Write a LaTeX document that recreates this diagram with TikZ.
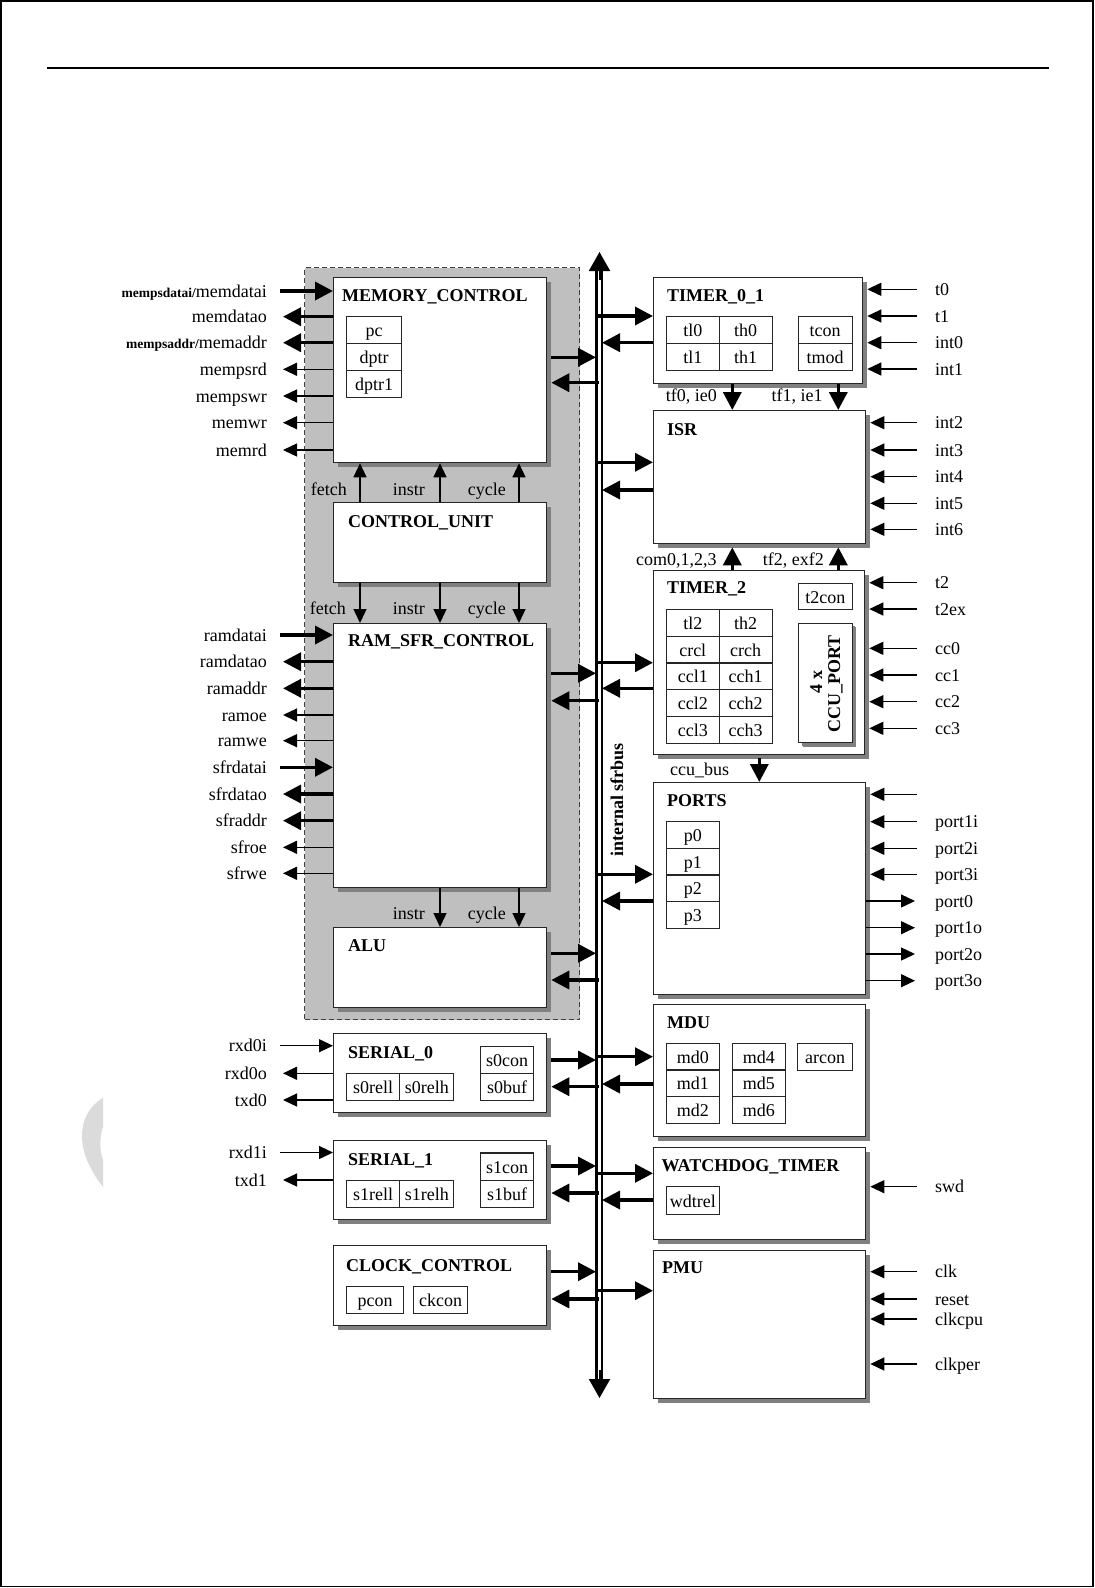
\documentclass[tikz,border=0pt]{standalone}
\usepackage{fontspec}
\setmainfont{Liberation Serif}
\usetikzlibrary{arrows.meta,shadows,calc}
\newcommand\labfont{\fontsize{18}{20}\selectfont}
\newcommand\ttlfont{\fontsize{18}{20}\selectfont\bfseries}
\newcommand\smbfont{\fontsize{13.5}{15}\selectfont\bfseries}
% left-side signals
\newcommand\sigInL[5]{\node[lbl,anchor=east] (#1) at (267,#3) {#2};
  \draw[#4] ([xshift=13pt]#1.east) -- (#1.east -| #5.west);}
\newcommand\sigOutL[5]{\node[lbl,anchor=east] (#1) at (267,#3) {#2};
  \draw[#4] (#1.east -| #5.west) -- ([xshift=16pt]#1.east);}
% right-side signals
\newcommand\sigInR[4]{\node[lbl,anchor=west] (#1) at (935,#3) {#2};
  \draw[thn] ([xshift=-18pt]#1.west) -- ($(#1.west -| #4.east)+(4,0)$);}
\newcommand\sigOutR[4]{\node[lbl,anchor=west] (#1) at (935,#3) {#2};
  \draw[thn] (#1.west -| #4.east) -- ([xshift=-20pt]#1.west);}
% bus connections
\newcommand\LtoBus[2]{\draw[thk] ($(#1.east |- 0,#2)+(4,0)$) -- (busL |- 0,#2);}
\newcommand\BusToL[2]{\draw[thk] (busM |- 0,#2) -- ($(#1.east |- 0,#2)+(4,0)$);}
\newcommand\BusToR[2]{\draw[thk] (busL |- 0,#2) -- (#1.west |- 0,#2);}
\newcommand\RtoBus[2]{\draw[thk] (#1.west |- 0,#2) -- (busR |- 0,#2);}

\begin{document}
\begin{tikzpicture}[x=1pt,y=-1pt,
  blk/.style={draw=black!85,line width=1.3pt,fill=white,anchor=north west,inner sep=0pt,
     drop shadow={shadow xshift=4pt,shadow yshift=-4pt,fill=black!50,opacity=1}},
  cell/.style={draw=black!85,line width=1.1pt,anchor=north west,inner sep=0pt,font=\labfont,
     minimum width=53pt,minimum height=26.7pt,text height=13pt,text depth=0pt},
  ttl/.style={font=\ttlfont,anchor=base west,inner sep=0pt},
  lbl/.style={font=\labfont,inner sep=0pt,text height=12pt,text depth=0pt},
  flab/.style={font=\labfont,inner sep=0pt,anchor=base east},
  thk/.style={line width=3.5pt,-{Triangle[length=18pt,width=18pt]}},
  thn/.style={line width=1.3pt,-{Triangle[length=14pt,width=13pt]}},
]
\useasboundingbox (0,0) rectangle (1095,1588);
\fill[white] (0,0) rectangle (1095,1588);
\draw[line width=1.5pt] (1,1) rectangle (1093,1586.5);
\draw[line width=1.2pt] (47,68) -- (1049,68);
% watermark fragment
\fill[black!14] (103,1098) .. controls (89,1106) and (82,1120) .. (82,1136)
  .. controls (82,1156) and (93,1174) .. (103,1187) -- (103,1160)
  .. controls (99.5,1150) and (99.5,1137) .. (103,1127) -- cycle;

% core region
\node[anchor=north west,minimum width=275pt,minimum height=752pt,inner sep=0pt,
  fill=black!25,draw=black!75,line width=1pt,dash pattern=on 5pt off 3pt] (core) at (304,267) {};

% ---------- left blocks ----------
\node[blk,minimum width=213pt,minimum height=185pt] (mem) at (333,277) {};
\node[ttl] (memT) at (342,301) {MEMORY\_CONTROL};
\node[cell,minimum width=55pt] (pc) at (346,316) {pc};
\node[cell,minimum width=55pt] (dptr) at (346,343) {dptr};
\node[cell,minimum width=55pt] (dptrA) at (346,370) {dptr1};

\node[blk,minimum width=213pt,minimum height=80pt] (cu) at (333,502) {};
\node[ttl] (cuT) at (348,527) {CONTROL\_UNIT};

\node[blk,minimum width=213pt,minimum height=264pt] (ram) at (333,623) {};
\node[ttl] (ramT) at (348,646.5) {RAM\_SFR\_CONTROL};

\node[blk,minimum width=213pt,minimum height=80pt] (alu) at (333,927) {};
\node[ttl] (aluT) at (348,951.5) {ALU};

\node[blk,minimum width=213pt,minimum height=79pt] (ser0) at (333,1033) {};
\node[ttl] (ser0T) at (348,1058) {SERIAL\_0};
\node[cell,minimum width=53pt,minimum height=27.6pt] (s0con) at (480,1045.7) {s0con};
\node[cell,minimum width=53pt] (s0buf) at (480,1073.3) {s0buf};
\node[cell,minimum width=53.3pt] (s0rell) at (346,1073.3) {s0rell};
\node[cell,minimum width=54pt] (s0relh) at (399.3,1073.3) {s0relh};

\node[blk,minimum width=213pt,minimum height=79pt] (ser1) at (333,1140) {};
\node[ttl] (ser1T) at (348,1165) {SERIAL\_1};
\node[cell,minimum width=53pt,minimum height=27.6pt] (s1con) at (480,1152.4) {s1con};
\node[cell,minimum width=53pt] (s1buf) at (480,1180) {s1buf};
\node[cell,minimum width=53.3pt] (s1rell) at (346,1180) {s1rell};
\node[cell,minimum width=54pt] (s1relh) at (399.3,1180) {s1relh};

\node[blk,minimum width=213pt,minimum height=80pt] (clk) at (333,1245) {};
\node[ttl] (clkT) at (346,1271) {CLOCK\_CONTROL};
\node[cell,minimum width=57pt,minimum height=27pt] (pcon) at (346,1286) {pcon};
\node[cell,minimum width=54pt,minimum height=27pt] (ckcon) at (413,1286) {ckcon};

% ---------- right blocks ----------
\node[blk,minimum width=209pt,minimum height=106pt] (tmr) at (653,277) {};
\node[ttl] (tmrT) at (667,301) {TIMER\_0\_1};
\node[cell] (tlA) at (665.7,316) {tl0};
\node[cell] (thA) at (718.5,316) {th0};
\node[cell] (tlB) at (665.7,343) {tl1};
\node[cell] (thB) at (718.5,343) {th1};
\node[cell,minimum width=54pt] (tcon) at (797.5,316) {tcon};
\node[cell,minimum width=54pt] (tmod) at (797.5,343) {tmod};

\node[blk,minimum width=212pt,minimum height=133pt] (isr) at (653,410) {};
\node[ttl] (isrT) at (667,435) {ISR};

\node[blk,minimum width=211pt,minimum height=184pt] (tm2) at (653,570) {};
\node[ttl] (tm2T) at (667,593.3) {TIMER\_2};
\node[cell,minimum width=54pt,minimum height=26.5pt] (ttcon) at (797.7,582.7) {t2con};
\foreach \nm/\a/\b [count=\k from 0] in {r0/tl2/th2,r1/crcl/crch,r2/ccl1/cch1,r3/ccl2/cch2,r4/ccl3/cch3}{
  \node[cell] (\nm l) at (665.7,609+26.7*\k) {\a};
  \node[cell] (\nm h) at (718.5,609+26.7*\k) {\b};
}
\node[blk,line width=1.1pt,minimum width=53.4pt,minimum height=119.6pt,
  drop shadow={shadow xshift=3pt,shadow yshift=-3pt,fill=black!50,opacity=1}] (ccu) at (798.3,622.7) {};
\node[font=\ttlfont,rotate=90,anchor=base,inner sep=0pt] (ccuA) at (822,682) {4 x};
\node[font=\ttlfont,rotate=90,anchor=base,inner sep=0pt] (ccuB) at (840,684) {CCU\_PORT};

\node[blk,minimum width=212pt,minimum height=212pt] (ports) at (653,782) {};
\node[ttl] (portsT) at (667,806) {PORTS};
\foreach \t [count=\k from 0] in {p0,p1,p2,p3}{
  \node[cell] (c\t) at (665.7,821+26.7*\k) {\t};
}

\node[blk,minimum width=212pt,minimum height=132pt] (mdu) at (653,1004) {};
\node[ttl] (mduT) at (667,1028.3) {MDU};
\foreach \a/\b [count=\k from 0] in {md0/md4,md1/md5,md2/md6}{
  \node[cell] (c\a) at (665.7,1042.7+26.7*\k) {\a};
  \node[cell] (c\b) at (731.7,1042.7+26.7*\k) {\b};
}
\node[cell,minimum width=54.4pt,minimum height=27.3pt] (arcon) at (797.3,1042.7) {arcon};

\node[blk,minimum width=212pt,minimum height=92pt] (wdt) at (653,1147) {};
\node[ttl] (wdtT) at (661.5,1171.7) {WATCHDOG\_TIMER};
\node[cell,minimum height=28pt] (wdtrel) at (665.7,1186) {wdtrel};

\node[blk,minimum width=212pt,minimum height=148pt] (pmu) at (653,1250) {};
\node[ttl] (pmuT) at (662,1273) {PMU};

% ---------- internal bus ----------
\coordinate (busL) at (596,0);
\coordinate (busM) at (599,0);
\coordinate (busR) at (602,0);
\coordinate (busTop) at (599.5,252);
\coordinate (busBot) at (599.5,1398);
\draw[line width=3pt] (596,268) -- (596,1381);
\draw[line width=2pt] (602,268) -- (602,1381);
\draw[line width=2pt,-{Triangle[length=19pt,width=21pt]}] (599.5,280) -- (busTop);
\draw[line width=2pt,-{Triangle[length=19pt,width=21pt]}] (599.5,1370) -- (busBot);
\node[font=\ttlfont,rotate=90,inner sep=0pt] (busT) at (617,800) {internal sfrbus};

\LtoBus{mem}{357.3}  \BusToL{mem}{382.7}
\LtoBus{ram}{673.3}  \BusToL{ram}{700.7}
\LtoBus{alu}{953.3}  \BusToL{alu}{980}
\LtoBus{ser0}{1060}  \BusToL{ser0}{1086.7}
\LtoBus{ser1}{1166}  \BusToL{ser1}{1193}
\LtoBus{clk}{1271.7} \BusToL{clk}{1299}
\BusToR{tmr}{316}    \RtoBus{tmr}{342.7}
\BusToR{isr}{462.3}  \RtoBus{isr}{490}
\BusToR{tm2}{662.7}  \RtoBus{tm2}{688.3}
\BusToR{ports}{874.3} \RtoBus{ports}{901}
\BusToR{mdu}{1056.7} \RtoBus{mdu}{1084}
\BusToR{wdt}{1173.3} \RtoBus{wdt}{1200}
\BusToR{pmu}{1290.7}

% ---------- internal control signals ----------
\foreach \xx in {360,440,519}{
  \draw[thn] (cu.north -| \xx,0) -- (mem.south -| \xx,0);
  \draw[thn] (cu.south -| \xx,0) -- (ram.north -| \xx,0);
}
\foreach \xx in {440,519}{
  \draw[thn] (ram.south -| \xx,0) -- (alu.north -| \xx,0);
}
\node[flab] (fA) at (347,495) {fetch};
\node[flab] (iA) at (425,495) {instr};
\node[flab] (yA) at (506,495) {cycle};
\node[flab] (fB) at (346,614) {fetch};
\node[flab] (iB) at (425,614) {instr};
\node[flab] (yB) at (506,614) {cycle};
\node[flab] (iC) at (425,919.3) {instr};
\node[flab] (yC) at (506,919.3) {cycle};

\draw[thk] (tmr.south -| 732.3,0) -- (isr.north -| 732.3,0);
\draw[thk] (tmr.south -| 838.3,0) -- (isr.north -| 838.3,0);
\node[flab] (tfA) at (717,401.7) {tf0, ie0};
\node[flab] (tfB) at (822.7,401.7) {tf1, ie1};
\draw[thk] (tm2.north -| 732.3,0) -- ($(isr.south -| 732.3,0)+(0,3)$);
\draw[thk] (tm2.north -| 838.3,0) -- ($(isr.south -| 838.3,0)+(0,3)$);
\node[flab] (comL) at (716.7,565) {com0,1,2,3};
\node[flab] (tfC) at (824,565) {tf2, exf2};
\draw[thk] ($(tm2.south -| 759.3,0)+(0,3)$) -- (ports.north -| 759.3,0);
\node[font=\labfont,inner sep=0pt,anchor=base west] (ccubus) at (670,775) {ccu\_bus};

% ---------- external signals, left ----------
\sigInL{mdi}{{\smbfont mempsdatai/}memdatai}{291}{thk}{mem}
\sigOutL{mdo}{memdatao}{316.7}{thk}{mem}
\sigOutL{mad}{{\smbfont mempsaddr/}memaddr}{342.7}{thk}{mem}
\sigOutL{mprd}{mempsrd}{369.3}{thn}{mem}
\sigOutL{mpwr}{mempswr}{396}{thn}{mem}
\sigOutL{mwr}{memwr}{422.7}{thn}{mem}
\sigOutL{mrd}{memrd}{450}{thn}{mem}

\sigInL{rdi}{ramdatai}{635}{thk}{ram}
\sigOutL{rdo}{ramdatao}{661.7}{thk}{ram}
\sigOutL{rad}{ramaddr}{688.3}{thk}{ram}
\sigOutL{roe}{ramoe}{715}{thn}{ram}
\sigOutL{rwe}{ramwe}{740.7}{thn}{ram}
\sigInL{sdi}{sfrdatai}{767.3}{thk}{ram}
\sigOutL{sdo}{sfrdatao}{794}{thk}{ram}
\sigOutL{sad}{sfraddr}{820.7}{thk}{ram}
\sigOutL{soe}{sfroe}{847.3}{thn}{ram}
\sigOutL{swe}{sfrwe}{873.3}{thn}{ram}

\sigInL{rxAi}{rxd0i}{1045.7}{thn}{ser0}
\sigOutL{rxAo}{rxd0o}{1073.3}{thn}{ser0}
\sigOutL{txA}{txd0}{1100}{thn}{ser0}
\sigInL{rxBi}{rxd1i}{1152.5}{thn}{ser1}
\sigOutL{txB}{txd1}{1180}{thn}{ser1}

% ---------- external signals, right ----------
\sigInR{tA}{t0}{289.3}{tmr}
\sigInR{tB}{t1}{316}{tmr}
\sigInR{inA}{int0}{342.7}{tmr}
\sigInR{inB}{int1}{369}{tmr}
\sigInR{inC}{int2}{422.7}{isr}
\sigInR{inD}{int3}{450}{isr}
\sigInR{inE}{int4}{476.7}{isr}
\sigInR{inF}{int5}{503.3}{isr}
\sigInR{inG}{int6}{529.3}{isr}
\sigInR{tC}{t2}{582.7}{tm2}
\sigInR{tCx}{t2ex}{609}{tm2}
\sigInR{ccA}{cc0}{648.3}{tm2}
\sigInR{ccB}{cc1}{675}{tm2}
\sigInR{ccC}{cc2}{701.7}{tm2}
\sigInR{ccD}{cc3}{728.3}{tm2}
\sigInR{pnone}{}{794.3}{ports}
\sigInR{pAi}{port1i}{821.7}{ports}
\sigInR{pBi}{port2i}{848.3}{ports}
\sigInR{pCi}{port3i}{874.3}{ports}
\sigOutR{pAo}{port0}{901}{ports}
\sigOutR{pBo}{port1o}{927.7}{ports}
\sigOutR{pCo}{port2o}{954}{ports}
\sigOutR{pDo}{port3o}{980.7}{ports}
\sigInR{swd}{swd}{1186.7}{wdt}
\sigInR{clkin}{clk}{1271.7}{pmu}
\sigInR{rst}{reset}{1299}{pmu}
\sigInR{ccpu}{clkcpu}{1319}{pmu}
\sigInR{cper}{clkper}{1364}{pmu}
\end{tikzpicture}
\end{document}
